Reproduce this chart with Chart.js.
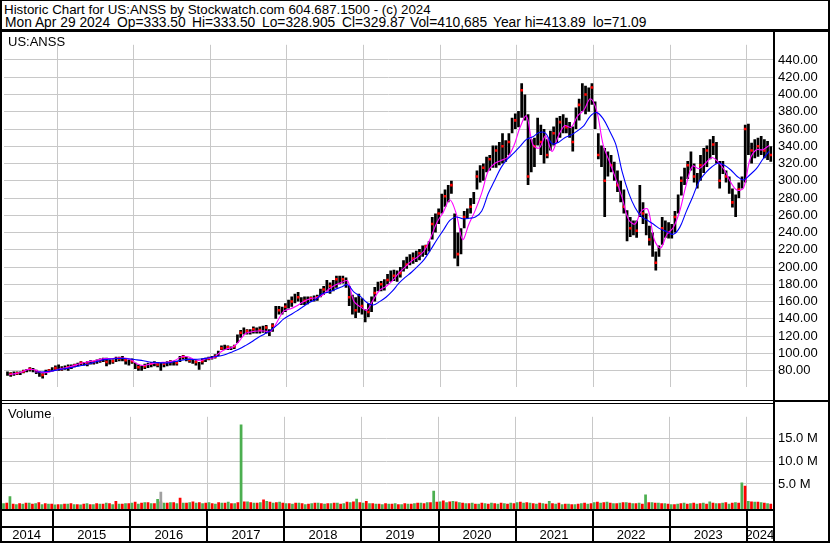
<!DOCTYPE html>
<html>
<head>
<meta charset="utf-8">
<title>US:ANSS historic chart</title>
<script src="https://cdn.jsdelivr.net/npm/chart.js@4.4.1/dist/chart.umd.min.js"></script>
<style>
  body { margin: 0; background: #fff; }
  #page { position: relative; width: 830px; height: 543px; overflow: hidden;
          font-family: "Liberation Sans", Arial, sans-serif; font-size: 13px; color: #000; }
  .ln { position: absolute; background: #000; }
  .txt { position: absolute; white-space: pre; line-height: 13px; }
  .hdr { font-size: 13.33px; }
  .hdr2 { font-size: 13.8px; }
  canvas { position: absolute; left: 0; }
</style>
</head>
<body>
<div id="page">
  <canvas id="price" width="830" height="368" style="top:32px"></canvas>
  <canvas id="volume" width="830" height="139" style="top:404px"></canvas>

  <div class="txt hdr" style="left:4px;top:3px">Historic Chart for US:ANSS by Stockwatch.com 604.687.1500 - (c) 2024</div>
  <div class="txt hdr2" style="left:5px;top:16px">Mon Apr 29 2024</div>
  <div class="txt hdr2" style="left:117px;top:16px">Op=333.50</div>
  <div class="txt hdr2" style="left:192px;top:16px">Hi=333.50</div>
  <div class="txt hdr2" style="left:262px;top:16px">Lo=328.905</div>
  <div class="txt hdr2" style="left:342px;top:16px">Cl=329.87</div>
  <div class="txt hdr2" style="left:410px;top:16px">Vol=410,685</div>
  <div class="txt hdr2" style="left:493px;top:16px">Year hi=413.89</div>
  <div class="txt hdr2" style="left:593px;top:16px">lo=71.09</div>
  <div class="txt" style="left:8px;top:35px">US:ANSS</div>
  <div class="txt" style="left:8px;top:407px">Volume</div>

  <!-- frame -->
  <div class="ln" style="left:0;top:0;width:830px;height:1px"></div>
  <div class="ln" style="left:0;top:0;width:2px;height:543px"></div>
  <div class="ln" style="left:828px;top:0;width:2px;height:543px"></div>
  <div class="ln" style="left:0;top:29px;width:830px;height:3px"></div>
  <div class="ln" style="left:773px;top:29px;width:2px;height:514px"></div>
  <div class="ln" style="left:0;top:400px;width:773px;height:1px"></div>
  <div class="ln" style="left:0;top:403px;width:773px;height:1px"></div>
  <div class="ln" style="left:775px;top:400px;width:55px;height:2px"></div>
  <div class="ln" style="left:0;top:509px;width:773px;height:2px"></div>
  <div class="ln" style="left:0;top:526px;width:773px;height:2px"></div>
  <div class="ln" style="left:0;top:541px;width:830px;height:2px"></div>
</div>

<script>
// x axis runs in half-month slots, slot 0 = first half of May 2014
const yearStarts = [16, 40, 64, 88, 112, 136, 160, 184, 208, 232];
const yearLabels = ["2014", "2015", "2016", "2017", "2018", "2019", "2020", "2021", "2022", "2023", "2024"];
const xMin = -0.6, xMax = 240.2;

const priceTicks = [80, 100, 120, 140, 160, 180, 200, 220, 240, 260, 280, 300, 320, 340, 360, 380, 400, 420, 440];
const volumeTicks = [5, 10, 15];

// low / high for every half month
const priceRange = [
  [74,79],[73,78],[74,79],[75,79],[75,79],[77,81],[78,82],[79,84],[78,83],[76,81],[73,79],[71,77],[75,81],[78,82],[79,84],[80,86],
  [80,87],[80,85],[81,86],[80,87],[82,87],[84,88],[85,89],[86,91],[86,90],[85,91],[87,92],[87,91],[88,93],[89,94],[90,95],[85,95],[87,93],[88,93],[90,96],[91,96],[91,97],[87,94],[86,93],[88,94],
  [82,89],[80,87],[80,86],[82,88],[83,89],[84,90],[85,91],[84,90],[80,89],[84,90],[85,91],[86,92],[86,91],[86,91],[90,97],[93,98],[91,96],[89,94],[88,93],[86,92],[81,90],[87,94],[90,95],[92,96],
  [93,97],[94,99],[97,103],[104,109],[104,110],[104,109],[104,108],[105,110],[112,122],[118,127],[122,130],[122,128],[122,128],[123,131],[123,130],[123,131],[124,132],[123,133],[120,128],[125,135],[140,155],[145,155],[145,154],[148,158],
  [152,162],[154,166],[158,169],[160,171],[156,165],[156,166],[157,166],[160,166],[160,167],[161,168],[165,175],[168,178],[172,185],[169,182],[172,185],[176,190],[180,190],[181,190],[176,188],[155,178],[145,168],[141,165],[147,169],[145,164],
  [136,151],[142,158],[148,166],[160,177],[172,183],[172,184],[173,186],[180,192],[183,196],[184,197],[183,196],[188,200],[195,208],[198,212],[202,215],[204,217],[206,219],[208,221],[212,225],[214,226],[218,230],[232,258],[240,262],[250,268],
  [262,285],[270,290],[275,295],[285,300],[210,262],[201,240],[215,245],[245,265],[256,268],[262,280],[273,287],[290,312],[298,318],[300,320],[310,328],[312,330],[315,341],[315,341],[318,345],[320,355],[322,347],[330,355],[355,373],[360,378],
  [362,381],[373,413],[370,400],[295,377],[310,348],[316,350],[341,373],[330,365],[320,360],[326,348],[335,358],[341,363],[344,373],[350,375],[355,377],[355,373],[350,368],[334,363],[360,385],[370,395],[381,413],[377,410],[380,408],[388,413],
  [360,392],[325,355],[316,341],[258,338],[305,334],[310,330],[300,322],[287,312],[275,300],[262,290],[230,266],[235,258],[237,254],[234,254],[258,295],[250,275],[237,262],[225,248],[212,240],[196,218],[212,225],[226,258],[234,254],[233,252],
  [233,250],[240,265],[262,284],[283,305],[295,315],[302,323],[312,334],[298,320],[291,309],[300,330],[309,338],[316,341],[325,348],[330,352],[320,345],[291,323],[308,323],[298,312],[285,305],[269,291],[258,284],[280,298],[291,305],[298,365],
  [330,366],[320,344],[326,348],[328,350],[330,352],[326,348],[324,346],[322,340]
];

// one value per month, May 2014 .. Apr 2024
const closes = [
  76, 77, 79, 82, 79, 75, 80, 83, 82, 84,
  86, 89, 88, 90, 92, 90, 91, 94, 92, 91,
  84, 85, 88, 87, 88, 90, 89, 96, 92, 90,
  91, 94, 96, 106, 107, 108, 124, 126, 128, 127,
  130, 132, 150, 154, 160, 165, 161, 164, 165, 174,
  178, 186, 186, 165, 150, 155, 148, 170, 180, 185,
  190, 193, 203, 210, 216, 224, 250, 262, 282, 295,
  215, 258, 270, 305, 315, 325, 335, 340, 345, 370,
  405, 305, 340, 345, 330, 355, 368, 362, 345, 388,
  400, 408, 330, 300, 318, 295, 270, 245, 242, 262,
  232, 205, 245, 240, 258, 300, 318, 305, 318, 335,
  342, 300, 305, 275, 290, 360, 335, 340, 335, 330
];

const shortMA = [
  75.5, 76.5, 78.5, 81.5, 81, 78, 78, 80, 82, 83.5,
  85.5, 88, 89.8, 91, 92.5, 94, 94, 94.5, 94.5, 93,
  88, 86, 87.5, 89, 89.6, 90, 92, 96, 96, 93,
  91.5, 94, 95, 101, 105, 107, 114, 123, 125, 126,
  126, 125.5, 137, 149, 151.5, 155, 159.5, 163, 164.5, 167,
  174, 179, 182, 184, 160, 154, 150, 162, 173, 177.5,
  184, 193, 200, 207, 212, 219, 234, 252, 264, 278,
  262, 232, 250, 266, 286, 311, 320, 323.5, 327, 340,
  362, 375, 342, 338, 352, 334, 352, 364, 362, 375,
  382, 395, 381, 342, 322, 302, 280, 255, 250, 265,
  267, 232, 222, 238, 246, 265, 295, 317, 314, 320,
  327, 322, 312.5, 298, 289, 292, 325, 336, 336, 341
];

const longMA = [
  null, null, null, null, 78.5, 78.5, 79, 80, 81.5, 82.5,
  84, 85.5, 87, 89, 91, 93, 93.5, 94, 94, 93.5,
  92.5, 91.5, 90, 89.5, 89, 89, 90.5, 92, 93, 93,
  93.5, 94.5, 96, 97, 99, 102, 105, 109, 113.5, 118.5,
  122.5, 127, 133, 140, 144.5, 149, 154, 159, 162.5, 169,
  171, 174, 177, 179.5, 171, 166, 159, 156, 160, 165,
  172, 181, 188, 194, 201, 209, 220, 232, 243, 254,
  258, 256, 256.5, 258, 265, 285, 300, 315, 325, 332,
  340, 348, 351, 356, 355, 343, 344.5, 350, 353, 358,
  364, 375, 379, 372, 358, 342, 310, 286, 269, 258.5,
  254, 249, 244, 241, 238, 246, 264, 281, 299, 309,
  316, 320.5, 318, 312.5, 305, 301, 307, 314, 325, 334
];

// volume in millions, one up-day and one down-day figure per month
const volUp = [
  0.8, 2.3, 0.6, 0.7, 0.9, 0.8, 0.6, 0.7, 0.5, 0.6,
  0.7, 0.6, 0.5, 0.8, 0.6, 0.7, 0.9, 0.6, 0.7, 0.8,
  0.9, 0.7, 1.0, 0.8, 1.7, 0.9, 1.0, 0.8, 0.9, 1.0,
  0.9, 0.8, 1.0, 0.7, 0.9, 1.1, 0.8, 18.0, 1.2, 0.9,
  1.0, 1.3, 0.9, 1.1, 0.8, 0.7, 0.9, 0.6, 0.8, 0.9,
  0.7, 0.8, 0.9, 0.8, 1.0, 1.8, 0.9, 0.8, 0.7, 0.6,
  0.7, 0.8, 0.6, 0.7, 0.8, 0.9, 1.0, 3.5, 1.2, 1.0,
  1.3, 1.0, 0.8, 0.9, 0.7, 0.8, 0.9, 0.7, 0.8, 0.9,
  1.0, 0.9, 0.9, 0.7, 0.8, 1.3, 0.7, 0.6, 0.7, 0.6,
  0.8, 0.7, 1.0, 0.9, 1.1, 0.8, 0.9, 1.0, 0.8, 0.9,
  2.7, 1.0, 0.9, 0.8, 0.6, 0.7, 0.9, 0.8, 0.7, 0.9,
  1.2, 0.8, 0.9, 0.7, 1.0, 5.3, 1.3, 1.1, 1.0, 0.8
];
const volDown = [
  0.9, 0.7, 0.8, 0.9, 0.7, 1.0, 0.8, 0.7, 0.6, 0.7,
  0.8, 0.6, 0.7, 0.6, 0.8, 0.7, 0.8, 1.3, 0.7, 0.8,
  1.1, 0.9, 1.0, 0.8, 1.2, 0.9, 1.0, 2.0, 0.9, 1.2,
  1.0, 0.9, 0.8, 1.0, 0.9, 0.8, 1.0, 1.2, 1.0, 0.9,
  1.6, 1.1, 1.0, 0.9, 0.8, 0.9, 0.8, 0.7, 0.9, 0.8,
  0.8, 0.9, 0.7, 1.1, 1.2, 1.0, 1.3, 0.8, 0.7, 0.8,
  0.7, 0.6, 0.8, 0.7, 0.9, 0.8, 1.0, 1.1, 1.4, 1.2,
  1.2, 0.9, 0.8, 0.7, 0.9, 0.7, 0.8, 0.9, 0.7, 0.8,
  1.1, 1.0, 0.8, 0.9, 0.7, 0.8, 0.9, 0.7, 0.6, 0.7,
  0.9, 0.8, 1.1, 1.0, 0.9, 0.8, 1.0, 0.9, 0.8, 0.7,
  1.0, 0.9, 0.8, 0.7, 0.6, 0.8, 0.7, 0.9, 0.8, 0.7,
  0.9, 0.8, 1.0, 0.9, 0.9, 4.6, 1.2, 1.1, 0.9, 0.7
];
// unchanged-close day (grey bar)
const volFlatMonth = [24];
const volFlat = [3.3];

const FONT = { family: "'Liberation Sans', Arial, sans-serif", size: 13 };
const GRID = "#c8c8c8";
const VOL_BASE = -0.46;

// gridlines only, at each new year
function yearGridAxis() {
  return {
    type: "linear", min: xMin, max: xMax, offset: false,
    ticks: { display: false },
    grid: { color: GRID, drawTicks: false, offset: false },
    border: { display: false },
    afterBuildTicks: s => { s.ticks = yearStarts.map(v => ({ value: v })); },
    afterFit: s => { s.height = 0; }
  };
}

const quiet = { legend: { display: false }, tooltip: { enabled: false } };

new Chart(document.getElementById("price"), {
  type: "bar",
  data: {
    datasets: [
      {
        type: "line", label: "long MA",
        data: longMA.map((v, m) => ({ x: 2 * m + 1, y: v })),
        borderColor: "#0000ff", borderWidth: 1.1, pointRadius: 0, tension: 0.35, order: 0
      },
      {
        type: "line", label: "short MA",
        data: shortMA.map((v, m) => ({ x: 2 * m + 1, y: v })),
        borderColor: "#ff00ff", borderWidth: 1.1, pointRadius: 0, tension: 0.35, order: 1
      },
      {
        type: "line", label: "close",
        data: closes.map((v, m) => ({ x: 2 * m + 1.5, y: v })),
        showLine: false, pointStyle: "rect", pointRadius: 1.8, pointBorderWidth: 0,
        pointBackgroundColor: "#ff0000", order: 2
      },
      {
        label: "range",
        data: priceRange.map((r, i) => ({ x: i + 0.5, y: r })),
        backgroundColor: "#000", barPercentage: 0.85, categoryPercentage: 1,
        borderSkipped: false, order: 3
      }
    ]
  },
  options: {
    responsive: false, animation: false, events: [],
    plugins: quiet,
    layout: { padding: 0 },
    scales: {
      x: yearGridAxis(),
      y: {
        position: "right", min: 60.8, max: 457.6,
        ticks: { font: FONT, color: "#000", padding: 5, callback: v => v.toFixed(2) },
        grid: { color: GRID, drawTicks: false },
        border: { display: false },
        afterBuildTicks: s => { s.ticks = priceTicks.map(v => ({ value: v })); },
        afterFit: s => { s.width = 57; }
      }
    }
  }
});

// black year separators in the two rows under the volume panel
const yearRows = {
  id: "yearRows",
  afterDraw(chart) {
    const ctx = chart.ctx, xs = chart.scales.x, top = chart.chartArea.bottom;
    ctx.save();
    ctx.fillStyle = "#000";
    yearStarts.forEach(b => {
      const px = Math.round(xs.getPixelForValue(b));
      ctx.fillRect(px - 1, top, 2, 34);
    });
    ctx.restore();
  }
};

const yearMid = [];
const bounds = [xMin].concat(yearStarts, [xMax]);
for (let i = 0; i < bounds.length - 1; i++) yearMid.push((bounds[i] + bounds[i + 1]) / 2);

new Chart(document.getElementById("volume"), {
  type: "bar",
  data: {
    datasets: [
      {
        label: "unchanged",
        data: volFlatMonth.map((m, k) => ({ x: 2 * m + 1.5, y: volFlat[k] })),
        backgroundColor: "#a0a0a0", order: 0
      },
      {
        label: "up",
        data: volUp.map((v, m) => ({ x: 2 * m + 0.5, y: v })),
        backgroundColor: "#4caf50", order: 1
      },
      {
        label: "down",
        data: volDown.map((v, m) => ({ x: 2 * m + 1.5, y: v })),
        backgroundColor: "#ff0000", order: 2
      }
    ].map(d => Object.assign(d, {
      grouped: false, base: VOL_BASE, barPercentage: 0.85, categoryPercentage: 1, borderSkipped: false
    }))
  },
  options: {
    responsive: false, animation: false, events: [],
    plugins: quiet,
    layout: { padding: 0 },
    scales: {
      x: yearGridAxis(),
      x2: {
        type: "linear", position: "bottom", min: xMin, max: xMax, offset: false,
        grid: { display: false }, border: { display: false },
        ticks: { font: FONT, color: "#000", padding: 11, maxRotation: 0, autoSkip: false,
                 callback: (v, i) => yearLabels[i] },
        afterBuildTicks: s => { s.ticks = yearMid.map(v => ({ value: v })); },
        afterFit: s => { s.height = 34; }
      },
      y: {
        position: "right", min: VOL_BASE, max: 19.66,
        ticks: { font: FONT, color: "#000", padding: 5, callback: v => v.toFixed(1) + " M" },
        grid: { color: GRID, drawTicks: false },
        border: { display: false },
        afterBuildTicks: s => { s.ticks = volumeTicks.map(v => ({ value: v })); },
        afterFit: s => { s.width = 57; }
      }
    }
  },
  plugins: [yearRows]
});
</script>
</body>
</html>
